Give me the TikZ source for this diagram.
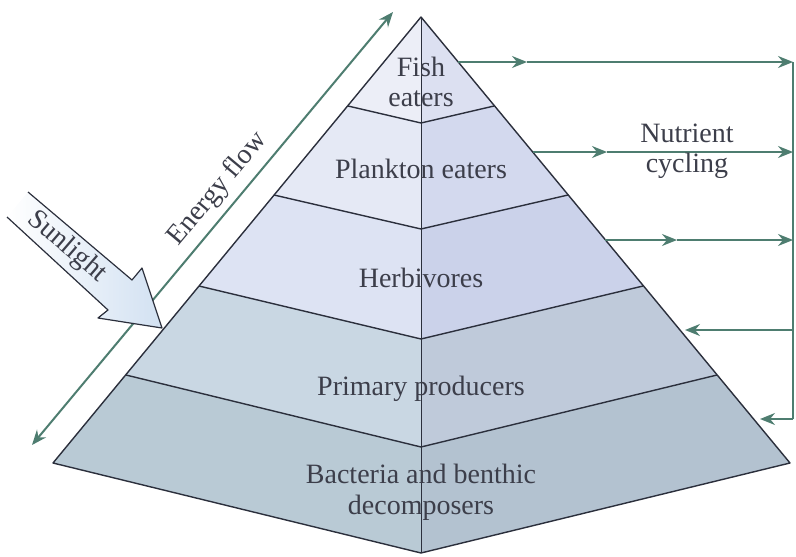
\documentclass[tikz,border=0pt]{standalone}
\usepackage{fontspec}
\setmainfont{Liberation Serif}
\usetikzlibrary{arrows.meta}
\definecolor{Ink}{HTML}{2B2F3C}
\definecolor{Cycle}{HTML}{4E7D70}
\definecolor{Label}{HTML}{3C3E4A}
\definecolor{FishL}{HTML}{ECEEF7}
\definecolor{FishR}{HTML}{DCE0F1}
\definecolor{PlankL}{HTML}{E5E9F5}
\definecolor{PlankR}{HTML}{D3D9EE}
\definecolor{HerbL}{HTML}{DDE3F3}
\definecolor{HerbR}{HTML}{CBD2EA}
\definecolor{PrimL}{HTML}{C9D7E3}
\definecolor{PrimR}{HTML}{BFCADA}
\definecolor{BactL}{HTML}{B9CAD5}
\definecolor{BactR}{HTML}{B3C2D0}
\definecolor{SunBlue}{HTML}{D2E1F2}

\begin{document}
\begin{tikzpicture}[x=1pt,y=-1pt,
  every node/.style={align=center,text=Label,inner sep=0pt,font=\fontsize{28}{30}\selectfont},
  rim/.style={draw=Ink,line width=1.4pt,line join=round},
  spine/.style={draw=Ink,line width=.7pt},
  cycline/.style={draw=Cycle,line width=2pt},
  flow/.style={cycline,-{Stealth[length=15pt,width=12pt,inset=5pt]}},
  energy/.style={cycline,{Stealth[length=15pt,width=12pt,inset=5pt]}-{Stealth[length=15pt,width=12pt,inset=5pt]}}]
  \useasboundingbox (0,0) rectangle (796,557);

  % pyramid corners
  \coordinate (T) at (421,17);
  \coordinate (L1) at (348,106); \coordinate (C1) at (421,123); \coordinate (R1) at (494,106);
  \coordinate (L2) at (274,195); \coordinate (C2) at (421,229); \coordinate (R2) at (568,195);
  \coordinate (L3) at (199,286); \coordinate (C3) at (421,339); \coordinate (R3) at (643,286);
  \coordinate (L4) at (126,375); \coordinate (C4) at (421,447); \coordinate (R4) at (717,375);
  \coordinate (L5) at (53,463);  \coordinate (C5) at (421,553); \coordinate (R5) at (790,463);

  % layer faces
  \fill[FishL] (T) -- (C1) -- (L1) -- cycle;
  \fill[FishR] (T) -- (R1) -- (C1) -- cycle;
  \fill[PlankL] (L1) -- (C1) -- (C2) -- (L2) -- cycle;
  \fill[PlankR] (C1) -- (R1) -- (R2) -- (C2) -- cycle;
  \fill[HerbL] (L2) -- (C2) -- (C3) -- (L3) -- cycle;
  \fill[HerbR] (C2) -- (R2) -- (R3) -- (C3) -- cycle;
  \fill[PrimL] (L3) -- (C3) -- (C4) -- (L4) -- cycle;
  \fill[PrimR] (C3) -- (R3) -- (R4) -- (C4) -- cycle;
  \fill[BactL] (L4) -- (C4) -- (C5) -- (L5) -- cycle;
  \fill[BactR] (C4) -- (R4) -- (R5) -- (C5) -- cycle;

  \draw[spine] (T) -- (C5);
  \draw[rim] (L1) -- (C1) -- (R1);
  \draw[rim] (L2) -- (C2) -- (R2);
  \draw[rim] (L3) -- (C3) -- (R3);
  \draw[rim] (L4) -- (C4) -- (R4);
  \draw[rim] (T) -- (L5) -- (C5) -- (R5) -- cycle;

  % level labels
  \node[anchor=north] (fish) at (421,57) {Fish\\eaters};
  \node[anchor=base] (plankton) at (421,178) {Plankton eaters};
  \node[anchor=base] (herb) at (421,287) {Herbivores};
  \node[anchor=base] (prim) at (421,395) {Primary producers};
  \node[anchor=north,font=\fontsize{28}{31}\selectfont] (bact) at (421,464) {Bacteria and benthic\\decomposers};

  % energy flow
  \coordinate (e1) at (32,445);
  \coordinate (e2) at (393,12);
  \draw[energy] (e1) -- (e2) node[pos=.56,sloped,above=7pt] (eflow) {Energy flow};

  % sunlight
  \coordinate (s1) at (28,192);  \coordinate (s2) at (132,280);
  \coordinate (s3) at (142,268); \coordinate (s4) at (162,328);
  \coordinate (s5) at (98,318);  \coordinate (s6) at (108,310);
  \coordinate (s7) at (7,217);
  \shade[left color=white,right color=SunBlue] (s1) -- (s2) -- (s3) -- (s4) -- (s5) -- (s6) -- (s7) -- cycle;
  \draw[rim,line width=1.2pt] (s1) -- (s2) -- (s3) -- (s4) -- (s5) -- (s6) -- (s7);
  \node[rotate=-40.8] (sun) at (67,247) {Sunlight};

  % nutrient cycling
  \coordinate (n1) at (458,62);  \coordinate (m1) at (527,62);  \coordinate (k1) at (793,62);
  \coordinate (n2) at (533,152); \coordinate (m2) at (607,152); \coordinate (k2) at (793,152);
  \coordinate (n3) at (605,240); \coordinate (m3) at (677,240); \coordinate (k3) at (793,240);
  \coordinate (n4) at (685,330); \coordinate (k4) at (793,330);
  \coordinate (n5) at (760,419); \coordinate (k5) at (793,419);
  \draw[cycline] (k1) -- (k5);
  \draw[flow] (n1) -- (m1);
  \draw[flow] (m1) -- (k1);
  \draw[flow] (n2) -- (m2);
  \draw[flow] (m2) -- (k2);
  \draw[flow] (n3) -- (m3);
  \draw[flow] (m3) -- (k3);
  \draw[flow] (k4) -- (n4);
  \draw[flow] (k5) -- (n5);
  \node[anchor=north] (nutrient) at (687,124) {Nutrient\\cycling};
\end{tikzpicture}
\end{document}
